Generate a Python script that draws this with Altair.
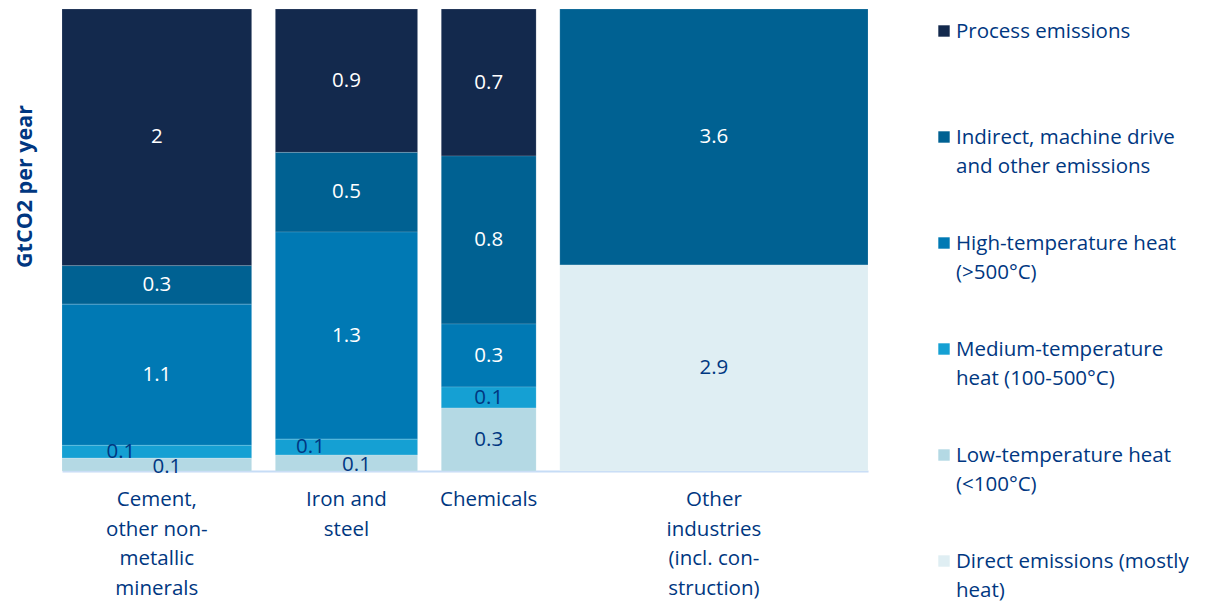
import altair as alt
import pandas as pd

# ---- data ----
sectors = ["Cement, other non-metallic minerals", "Iron and steel", "Chemicals",
           "Other industries (incl. construction)"]
sector_labels = ["Cement,\nother non-\nmetallic\nminerals", "Iron and\nsteel", "Chemicals",
                 "Other\nindustries\n(incl. con-\nstruction)"]
# column widths as drawn, on the GtCO2 scale
column_widths = [4.0, 3.0, 2.0, 6.5]

series = ["Process emissions", "Indirect, machine drive and other emissions",
          "High-temperature heat (>500°C)", "Medium-temperature heat (100-500°C)",
          "Low-temperature heat (<100°C)", "Direct emissions (mostly heat)"]
series_labels = ["Process emissions", "Indirect, machine drive\nand other emissions",
                 "High-temperature heat\n(>500°C)", "Medium-temperature\nheat (100-500°C)",
                 "Low-temperature heat\n(<100°C)", "Direct emissions (mostly\nheat)"]

process = [2.0, 0.9, 0.7, 0.0]
indirect = [0.3, 0.5, 0.8, 3.6]
high_temp = [1.1, 1.3, 0.3, 0.0]
medium_temp = [0.1, 0.1, 0.1, 0.0]
low_temp = [0.1, 0.1, 0.3, 0.0]
direct = [0.0, 0.0, 0.0, 2.9]

colors = ["#13294d", "#006192", "#0079b4", "#15a0d3", "#b4d9e4", "#dfeef3"]
label_colors = ["#ffffff", "#ffffff", "#ffffff", "#003781", "#003781", "#003781"]
text_blue = "#003781"
FONT = "Open Sans"
FS = 20.5
GAP = 0.5

values = [process, indirect, high_temp, medium_temp, low_temp, direct]

rows = []
cat_rows = []
x_cursor = 0.0
for i, sec in enumerate(sectors):
    w = column_widths[i]
    x0, x1 = x_cursor, x_cursor + w
    total = sum(v[i] for v in values)
    top = 1.0
    for j, s in enumerate(series):
        v = values[j][i]
        if v <= 0:
            continue
        share = v / total
        rows.append(dict(sector=sec, series=s, value=v, label=f"{v:g}",
                         x0=x0, x1=x1, xc=(x0 + x1) / 2,
                         y1=top, y0=top - share, yc=top - share / 2,
                         share=share, lcolor=label_colors[j]))
        top -= share
    cat_rows.append(dict(sector=sec, label=sector_labels[i], xc=(x0 + x1) / 2))
    x_cursor = x1 + GAP
x_max = x_cursor - GAP

df = pd.DataFrame(rows)
cat_df = pd.DataFrame(cat_rows)
leg_df = pd.DataFrame({"series": series, "label": series_labels})

W, H = 806, 462
x_scale = alt.Scale(domain=[0, x_max], nice=False, zero=False)
y_scale = alt.Scale(domain=[0, 1], nice=False, zero=False)
color_scale = alt.Scale(domain=series, range=colors)

base = alt.Chart(df)
rects = base.mark_rect(stroke="#ffffff", strokeWidth=0.6, strokeOpacity=0.25).encode(
    x=alt.X("x0:Q", scale=x_scale,
            axis=alt.Axis(title=None, labels=False, ticks=False, grid=False,
                          domainColor="#c6dcf6", domainWidth=2)),
    x2="x1:Q",
    y=alt.Y("y0:Q", scale=y_scale,
            axis=alt.Axis(title="GtCO2 per year", labels=False, ticks=False, grid=False,
                          domain=False, titleFont=FONT, titleFontSize=21.5,
                          titleFontWeight="bold", titleColor=text_blue,
                          titlePadding=26, titleY=177)),
    y2="y1:Q",
    color=alt.Color("series:N", scale=color_scale, legend=None),
)

big = base.transform_filter("datum.share >= 0.04").mark_text(
    font=FONT, fontSize=FS).encode(
    x=alt.X("xc:Q", scale=x_scale), y=alt.Y("yc:Q", scale=y_scale),
    text="label:N", color=alt.Color("lcolor:N", scale=None))

tiny_med = base.transform_filter(
    (alt.datum.share < 0.04) & (alt.datum.series == series[3])).mark_text(
    font=FONT, fontSize=FS, dx=-36).encode(
    x=alt.X("xc:Q", scale=x_scale), y=alt.Y("yc:Q", scale=y_scale),
    text="label:N", color=alt.Color("lcolor:N", scale=None))

tiny_low = base.transform_filter(
    (alt.datum.share < 0.04) & (alt.datum.series == series[4])).mark_text(
    font=FONT, fontSize=FS, dx=10, dy=2).encode(
    x=alt.X("xc:Q", scale=x_scale), y=alt.Y("yc:Q", scale=y_scale),
    text="label:N", color=alt.Color("lcolor:N", scale=None))

cats = alt.Chart(cat_df).mark_text(
    font=FONT, fontSize=FS, lineHeight=29.5, lineBreak="\n", baseline="top",
    color=text_blue).encode(
    x=alt.X("xc:Q", scale=x_scale), y=alt.value(H + 19), text="label:N")

main = alt.layer(rects, big, tiny_med, tiny_low, cats).properties(width=W, height=H)

leg_base = alt.Chart(leg_df).encode(
    y=alt.Y("series:N", sort=series, axis=None,
            scale=alt.Scale(type="point", padding=0.2075)))
squares = leg_base.mark_square(size=130, opacity=1).encode(
    x=alt.value(6), color=alt.Color("series:N", scale=color_scale, legend=None))
leg_text = leg_base.mark_text(
    align="left", baseline="alphabetic", dy=7, font=FONT, fontSize=FS,
    lineHeight=29, lineBreak="\n", color=text_blue).encode(
    x=alt.value(18), text="label:N")
legend = alt.layer(squares, leg_text).properties(width=200, height=574)

chart = alt.hconcat(main, legend, spacing=69).configure(
    padding={"left": 6, "top": 0, "right": 0, "bottom": 0}).configure_view(stroke=None)

chart.save("out.html", embed_options={"renderer": "svg", "actions": False})
